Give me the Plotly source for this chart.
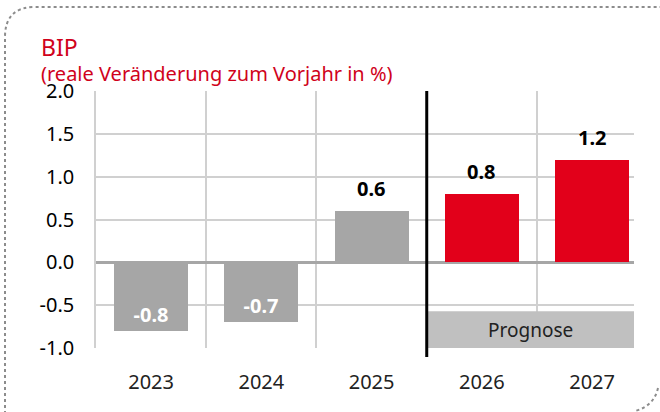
import plotly.graph_objects as go

years = ['2023', '2024', '2025', '2026', '2027']
growth = [-0.8, -0.7, 0.6, 0.8, 1.2]
bar_colors = ['#a6a6a6', '#a6a6a6', '#a6a6a6', '#e2001a', '#e2001a']
y_ticks = [2.0, 1.5, 1.0, 0.5, 0.0, -0.5, -1.0]

W, H = 660, 412
L, R, T, B = 96, 634, 91, 348   # plot area in pixels
FONT = 'Noto Sans'


def px(x):
    return (x - L) / (R - L)


def py(y):
    return (B - y) / (B - T)


xs = list(range(len(years)))

fig = go.Figure()
fig.add_trace(go.Bar(
    x=xs, y=growth, width=0.67,
    marker=dict(color=bar_colors, line=dict(width=0)),
    text=[f'{v:.1f}' if v < 0 else '' for v in growth],
    textposition='inside', insidetextanchor='end',
    textfont=dict(color='white', size=20, family=FONT, weight='bold'),
    cliponaxis=False, hoverinfo='skip',
))

# labels above positive bars
for x, v in zip(xs, growth):
    if v > 0:
        fig.add_annotation(x=x, y=v, text=f'<b>{v:.1f}</b>', showarrow=False,
                           yanchor='bottom', yshift=7,
                           font=dict(size=20, color='black', family=FONT))

# forecast box + divider
fig.add_shape(type='rect', xref='x', yref='y', x0=2.5, x1=4.38, y0=-1.01, y1=-0.57,
              fillcolor='#c0c0c0', line=dict(width=0), layer='above')
fig.add_annotation(x=3.44, y=-0.79, xref='x', yref='y', text='Prognose', showarrow=False,
                   font=dict(size=19, color='#222', family=FONT))
fig.add_shape(type='line', xref='x', yref='paper', x0=2.5, x1=2.5, y0=py(357), y1=1,
              line=dict(color='black', width=3), layer='above')

# dotted frame
frame_tl = (f'M {px(5)},{py(420)} L {px(5)},{py(37)} Q {px(5)},{py(7)} {px(35)},{py(7)} '
            f'L {px(670)},{py(7)}')
frame_br = f'M {px(658)},{py(388)} Q {px(654)},{py(406)} {px(635)},{py(411)}'
for p in (frame_tl, frame_br):
    fig.add_shape(type='path', xref='paper', yref='paper', path=p,
                  line=dict(color='#8c8c8c', width=2, dash='dot'))

fig.add_annotation(xref='paper', yref='paper', x=px(39), y=py(47), text='BIP',
                   showarrow=False, xanchor='left', yanchor='middle',
                   font=dict(size=23, color='#d0021b', family=FONT))
fig.add_annotation(xref='paper', yref='paper', x=px(39), y=py(73),
                   text='(reale Veränderung zum Vorjahr in %)',
                   showarrow=False, xanchor='left', yanchor='middle',
                   font=dict(size=20, color='#d0021b', family=FONT))

fig.update_layout(
    width=W, height=H,
    margin=dict(l=L, r=W - R, t=T, b=H - B),
    plot_bgcolor='white', paper_bgcolor='white',
    showlegend=False, bargap=0,
    font=dict(family=FONT, size=20, color='black'),
)
fig.update_xaxes(
    range=[-0.5, 4.38], tickvals=xs, ticktext=years, showgrid=False,
    zeroline=False, showline=False, ticks='', ticklabelstandoff=20,
    minor=dict(tick0=-0.5, dtick=1, showgrid=True, gridcolor='#d0d0d0', gridwidth=1.5),
    tickfont=dict(size=20, color='#222'),
)
fig.update_yaxes(
    range=[-1.0, 2.0], tickvals=y_ticks, ticktext=[f'{v:.1f}' for v in y_ticks],
    showgrid=True, gridcolor='#d0d0d0', gridwidth=1.5,
    zeroline=True, zerolinecolor='#a6a6a6', zerolinewidth=3,
    showline=True, linecolor='#d0d0d0', linewidth=1.5,
    ticks='', ticklabelstandoff=16,
    tickfont=dict(size=20, color='black'),
)

# drop the default 8px body margin so the figure sits at the window's corner
fig.write_html('out.html', config={'displayModeBar': False},
               post_script="document.body.style.margin='0px';")
